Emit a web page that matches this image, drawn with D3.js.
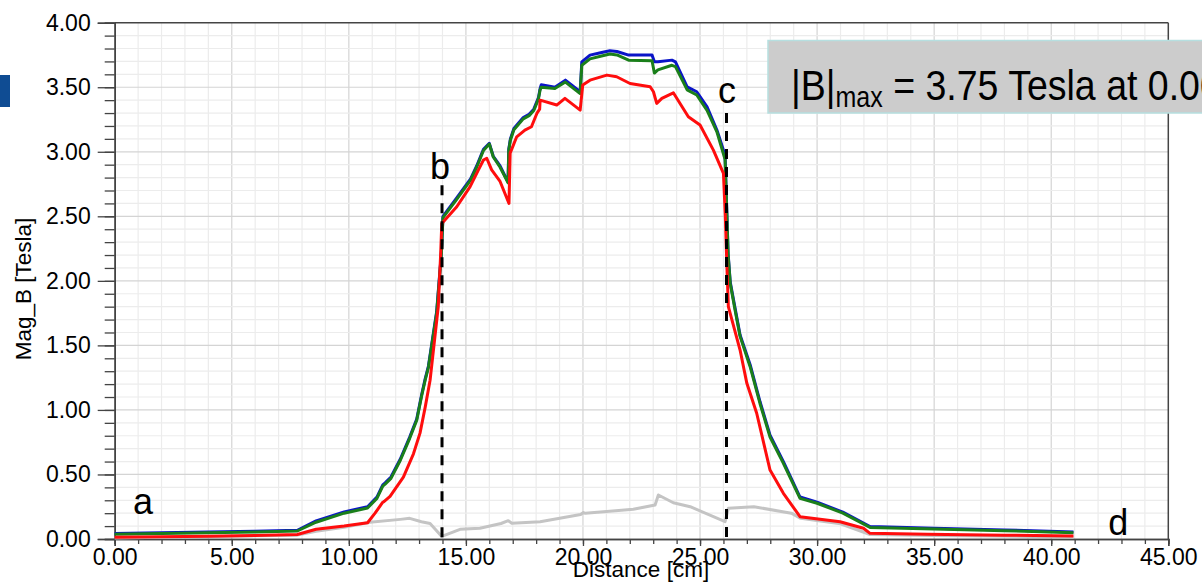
<!DOCTYPE html>
<html>
<head>
<meta charset="utf-8">
<script src="https://cdn.jsdelivr.net/npm/d3@7"></script>
<style>
  html, body { margin: 0; padding: 0; background: #fff; }
  svg { display: block; font-family: "Liberation Sans", Arial, sans-serif; }
</style>
</head>
<body>
<svg id="chart" width="1202" height="587"></svg>
<script>
// Field magnitude along the path, one [distance cm, |B| Tesla] list per trace
const bluePts = [
  [0,0.042],[2,0.048],[4,0.054],[6,0.06],[7.8,0.068],[8.6,0.14],[9.8,0.21],[10.8,0.25],
  [11.2,0.325],[11.45,0.42],[11.55,0.435],[11.8,0.48],[12.2,0.62],[12.6,0.79],[12.9,0.93],
  [13.1,1.11],[13.26,1.24],[13.4,1.34],[13.75,1.76],[13.95,2.21],[14.02,2.5],[14.6,2.64],
  [15.2,2.79],[15.46,2.89],[15.75,3.02],[16.0,3.065],[16.17,2.965],[16.46,2.89],[16.8,2.765],
  [16.83,3.02],[16.9,3.1],[17.05,3.18],[17.45,3.265],[17.7,3.29],[17.9,3.33],[18.1,3.42],
  [18.17,3.49],[18.22,3.52],[18.8,3.5],[19.25,3.555],[19.88,3.465],[19.95,3.697],[20.3,3.749],
  [20.75,3.767],[21.15,3.782],[21.45,3.777],[21.95,3.749],[22.95,3.749],[23.05,3.697],
  [23.2,3.697],[23.8,3.71],[23.95,3.697],[24.45,3.503],[24.86,3.465],[25.3,3.349],[25.72,3.168],
  [26.07,2.974],[26.14,2.56],[26.2,2.21],[26.29,1.99],[26.5,1.785],[26.71,1.58],[27.14,1.35],
  [27.56,1.065],[27.99,0.805],[28.56,0.6],[29.27,0.325],[30.0,0.285],[31.1,0.208],[32.26,0.097],
  [35,0.083],[38,0.07],[40.95,0.055]
];
const greenPts = [
  [0,0.036],[2,0.042],[4,0.048],[6,0.054],[7.8,0.062],[8.6,0.13],[9.8,0.2],[10.8,0.24],
  [11.2,0.315],[11.45,0.41],[11.55,0.425],[11.8,0.47],[12.2,0.61],[12.6,0.78],[12.9,0.92],
  [13.1,1.1],[13.26,1.23],[13.4,1.33],[13.75,1.75],[13.95,2.2],[14.02,2.49],[14.6,2.63],
  [15.2,2.78],[15.46,2.88],[15.75,3.01],[16.0,3.06],[16.17,2.96],[16.46,2.88],[16.8,2.76],
  [16.83,3.01],[16.9,3.09],[17.05,3.17],[17.45,3.255],[17.7,3.28],[17.9,3.32],[18.1,3.41],
  [18.17,3.48],[18.22,3.5],[18.8,3.49],[19.25,3.54],[19.88,3.45],[19.95,3.67],[20.3,3.72],
  [20.75,3.74],[21.15,3.757],[21.45,3.75],[21.95,3.71],[22.95,3.705],[23.05,3.61],
  [23.2,3.635],[23.8,3.67],[23.95,3.66],[24.45,3.48],[24.86,3.44],[25.3,3.32],[25.72,3.155],
  [26.07,2.94],[26.14,2.55],[26.2,2.2],[26.29,1.98],[26.5,1.77],[26.71,1.57],[27.14,1.335],
  [27.56,1.05],[27.99,0.79],[28.56,0.586],[29.27,0.315],[30.0,0.277],[31.1,0.2],[32.26,0.09],
  [35,0.077],[38,0.064],[40.95,0.049]
];
const redPts = [
  [0,0.013],[2,0.018],[4,0.022],[6,0.028],[7.8,0.035],[8.6,0.075],[9.8,0.1],[10.8,0.126],
  [11.12,0.2],[11.45,0.285],[11.5,0.29],[11.76,0.33],[12.33,0.48],[12.76,0.66],[13.04,0.82],
  [13.26,1.02],[13.47,1.23],[13.82,1.8],[13.92,2.2],[13.97,2.445],[14.61,2.574],[15.18,2.73],
  [15.53,2.858],[15.75,2.936],[15.89,2.95],[16.1,2.86],[16.46,2.77],[16.84,2.6],[16.89,2.99],
  [17.17,3.116],[17.52,3.168],[17.8,3.194],[18.03,3.297],[18.15,3.33],[18.17,3.4],[18.88,3.362],
  [19.23,3.414],[19.88,3.323],[19.99,3.517],[20.3,3.555],[21.02,3.594],[21.44,3.581],
  [22.01,3.529],[22.87,3.504],[23.01,3.465],[23.15,3.375],[23.37,3.414],[23.86,3.457],
  [24.5,3.271],[25.0,3.207],[25.57,3.013],[26.0,2.833],[26.08,2.5],[26.15,2.1],[26.21,1.8],
  [26.71,1.464],[27.0,1.206],[27.42,0.974],[27.99,0.534],[28.56,0.354],[29.27,0.173],
  [30.98,0.134],[31.98,0.083],[32.26,0.044],[34.7,0.036],[38,0.03],[40.95,0.023]
];
const grayPts = [
  [0,0.008],[7.8,0.03],[8.6,0.06],[9.8,0.09],[10.9,0.13],[12.2,0.152],[12.6,0.16],[13.1,0.134],
  [13.47,0.12],[13.97,0.02],[14.75,0.075],[15.6,0.083],[16.5,0.12],[16.81,0.142],[16.96,0.122],
  [18.17,0.134],[19.9,0.19],[20.02,0.205],[20.1,0.199],[22.15,0.23],[23.08,0.263],[23.22,0.341],
  [23.86,0.281],[24.58,0.25],[26.07,0.134],[26.21,0.238],[27.3,0.25],[28.9,0.2],[29.3,0.16],
  [31,0.118],[32.26,0.035],[35,0.028],[40.95,0.016]
];

// Axis ticks
const xTicks = [0, 5, 10, 15, 20, 25, 30, 35, 40, 45];
const yTicks = [0, 0.5, 1, 1.5, 2, 2.5, 3, 3.5, 4];

// Annotation letters [label, distance, value] and marker lines [distance, top value]
const letters = [["a", 0.78, 0.194], ["b", 13.47, 2.786], ["c", 25.77, 3.38], ["d", 42.43, 0.031]];
const markers = [[13.98, 2.74], [26.13, 3.3]];
const peakText = ["|B|", "max", " = 3.75 Tesla at 0.00"];

const svg = d3.select("#chart");
const x = d3.scaleLinear().domain([0, 45]).range([114.7, 1168.3]);
const y = d3.scaleLinear().domain([0, 4]).range([539, 22.7]);

// Grid: fine lines every 1 cm / 0.1 T, stronger every 5 cm / 0.5 T
const grid = svg.append("g");
grid.selectAll("line.vx").data(d3.range(1, 45)).join("line")
  .attr("x1", d => x(d)).attr("x2", d => x(d)).attr("y1", y(0)).attr("y2", y(4))
  .attr("stroke", d => d % 5 === 0 ? "#d4d4d4" : "#ececec").attr("stroke-width", 1.2);
grid.selectAll("line.hy").data(d3.range(1, 40)).join("line")
  .attr("y1", d => y(d / 10)).attr("y2", d => y(d / 10)).attr("x1", x(0)).attr("x2", x(45))
  .attr("stroke", d => d % 5 === 0 ? "#d4d4d4" : "#ececec").attr("stroke-width", 1.2);

// Frame
svg.append("line").attr("x1", x(0)).attr("x2", x(45)).attr("y1", y(4)).attr("y2", y(4))
  .attr("stroke", "#444").attr("stroke-width", 1.5);
svg.append("line").attr("x1", x(45)).attr("x2", x(45)).attr("y1", y(4)).attr("y2", y(0))
  .attr("stroke", "#444").attr("stroke-width", 1.5);

// Axes
const fmt = d3.format(".2f");
const xMinor = svg.append("g").attr("transform", `translate(0,${y(0)})`)
  .call(d3.axisBottom(x).tickValues(d3.range(0, 46)).tickSize(5).tickFormat(""));
const xMajor = svg.append("g").attr("transform", `translate(0,${y(0)})`)
  .call(d3.axisBottom(x).tickValues(xTicks).tickSize(7).tickPadding(3).tickFormat(fmt));
const yMinor = svg.append("g").attr("transform", `translate(${x(0)},0)`)
  .call(d3.axisLeft(y).tickValues(d3.range(0, 41).map(d => d / 10)).tickSize(10).tickFormat(""));
const yMajor = svg.append("g").attr("transform", `translate(${x(0)},0)`)
  .call(d3.axisLeft(y).tickValues(yTicks).tickSize(17).tickPadding(7).tickFormat(fmt));
[xMinor, xMajor, yMinor, yMajor].forEach(g => {
  g.selectAll(".domain").attr("stroke", "#444").attr("stroke-width", 1.5);
  g.selectAll(".tick line").attr("stroke", "#444").attr("stroke-width", 1.3);
});
xMajor.selectAll("text").attr("font-size", 23).attr("fill", "#000")
  .attr("font-family", "Liberation Sans, Arial, sans-serif");
yMajor.selectAll("text").attr("font-size", 23).attr("fill", "#000")
  .attr("font-family", "Liberation Sans, Arial, sans-serif");

// Axis titles
svg.append("text").attr("x", 641).attr("y", 577).attr("text-anchor", "middle")
  .attr("font-size", 22.5).attr("fill", "#000").text("Distance [cm]");
svg.append("text").attr("transform", "translate(31,289) rotate(-90)").attr("text-anchor", "middle")
  .attr("font-size", 22.5).attr("fill", "#000").text("Mag_B [Tesla]");

// Traces
const line = d3.line().x(d => x(d[0])).y(d => y(d[1]));
const traces = [[grayPts, "#c4c4c4"], [bluePts, "#0a14c8"], [greenPts, "#1a7f1a"], [redPts, "#ff0d0d"]];
svg.append("g").selectAll("path").data(traces).join("path")
  .attr("d", d => line(d[0])).attr("fill", "none").attr("stroke", d => d[1])
  .attr("stroke-width", 3).attr("stroke-linejoin", "round");

// Dashed region markers
svg.append("g").selectAll("line").data(markers).join("line")
  .attr("x1", d => x(d[0])).attr("x2", d => x(d[0])).attr("y1", d => y(d[1])).attr("y2", y(0))
  .attr("stroke", "#000").attr("stroke-width", 3).attr("stroke-dasharray", "10 8");

// Region letters
svg.append("g").selectAll("text").data(letters).join("text")
  .attr("x", d => x(d[1])).attr("y", d => y(d[2])).attr("font-size", 36).attr("fill", "#000")
  .text(d => d[0]);

// Peak value callout
svg.append("rect").attr("x", 768).attr("y", 40.5).attr("width", 460).attr("height", 72.5)
  .attr("fill", "#cccccc").attr("stroke", "#b6dfe0").attr("stroke-width", 1.5);
const peak = svg.append("text").attr("transform", "translate(791,100) scale(1,1.15)")
  .attr("fill", "#000");
peak.append("tspan").attr("font-size", 37.5).text(peakText[0]);
peak.append("tspan").attr("font-size", 25).attr("dy", 6).text(peakText[1]);
peak.append("tspan").attr("font-size", 37.5).attr("dy", -6).text(peakText[2]);

// Slide accent on the left edge
svg.append("rect").attr("x", 0).attr("y", 75).attr("width", 10).attr("height", 32).attr("fill", "#0f4c93");
</script>
</body>
</html>
